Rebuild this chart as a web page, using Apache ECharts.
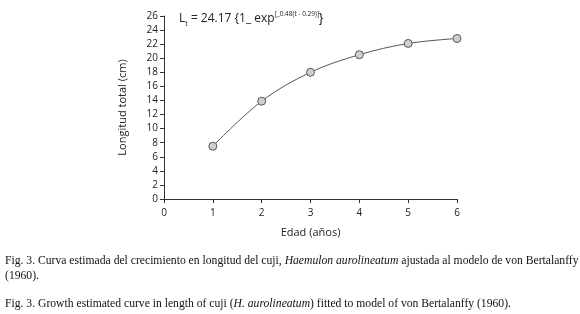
<!DOCTYPE html>
<html>
<head>
<meta charset="utf-8">
<script src="https://cdn.jsdelivr.net/npm/echarts@6/dist/echarts.min.js"></script>
<style>
  html, body { margin: 0; padding: 0; background: #fff; }
  #chart { width: 580px; height: 314px; }
</style>
</head>
<body>
<div id="chart"></div>
<script>
// edades (años) y longitud total (cm)
var ages = [1, 2, 3, 4, 5, 6];
var lengths = [7.5, 13.9, 18.0, 20.5, 22.1, 22.8];
var xTicks = [0, 1, 2, 3, 4, 5, 6];
var yTicks = [0, 2, 4, 6, 8, 10, 12, 14, 16, 18, 20, 22, 24, 26];

var sans = '"Open Sans", "DejaVu Sans", sans-serif';
var serif = '"Liberation Serif", "DejaVu Serif", serif';

var chart = echarts.init(document.getElementById('chart'));

var points = ages.map(function (a, i) { return [a, lengths[i]]; });

var axisCommon = {
  axisLine: { show: true, lineStyle: { color: '#333', width: 1 } },
  axisTick: { show: true, length: 4, lineStyle: { color: '#333' } },
  splitLine: { show: false }
};

// estilos del pie de figura
var captionRich = {
  n: { fontFamily: serif, fontSize: 11.65, lineHeight: 15, fill: '#111' },
  i: { fontFamily: serif, fontSize: 11.65, lineHeight: 15, fontStyle: 'italic', fill: '#111' }
};

chart.setOption({
  animation: false,
  grid: { left: 164, right: 123, top: 16, bottom: 115 },
  xAxis: Object.assign({}, axisCommon, {
    type: 'value',
    min: xTicks[0],
    max: xTicks[xTicks.length - 1],
    interval: 1,
    name: 'Edad (años)',
    nameLocation: 'middle',
    nameGap: 28,
    nameTextStyle: { color: '#222', fontFamily: sans, fontSize: 11 },
    axisLabel: { color: '#222', fontFamily: sans, fontSize: 10, margin: 9 }
  }),
  yAxis: Object.assign({}, axisCommon, {
    type: 'value',
    min: yTicks[0],
    max: yTicks[yTicks.length - 1],
    interval: 2,
    name: 'Longitud total (cm)',
    nameLocation: 'middle',
    nameGap: 36,
    nameTextStyle: { color: '#222', fontFamily: sans, fontSize: 11 },
    axisLabel: { color: '#222', fontFamily: sans, fontSize: 10, margin: 6 }
  }),
  series: [{
    type: 'line',
    data: points,
    smooth: 0.35,
    symbol: 'circle',
    symbolSize: 8,
    lineStyle: { color: '#555', width: 1 },
    itemStyle: { color: '#cfcfcf', borderColor: '#555', borderWidth: 1 }
  }],
  graphic: [
    {
      type: 'text',
      left: 179,
      top: 11,
      style: {
        text: '{m|L}{s|t}{m| = 24.17 \u007B1_ exp}{p|[_0.48(t - 0.29)]}{m|\u007D}',
        rich: {
          m: { fontFamily: sans, fontSize: 12, lineHeight: 16, fill: '#222' },
          s: { fontFamily: sans, fontSize: 7, lineHeight: 7, verticalAlign: 'bottom', fill: '#222' },
          p: { fontFamily: sans, fontSize: 6.5, lineHeight: 6, verticalAlign: 'top', fill: '#222' }
        }
      }
    },
    {
      type: 'text',
      left: 5,
      top: 255,
      style: {
        text: '{n|Fig. 3. Curva estimada del crecimiento en longitud del cuji, }{i|Haemulon aurolineatum}{n| ajustada al modelo de von Bertalanffy}\n{n|(1960).}',
        rich: captionRich
      }
    },
    {
      type: 'text',
      left: 5,
      top: 298,
      style: {
        text: '{n|Fig. 3. Growth estimated curve in length of cuji (}{i|H. aurolineatum}{n|) fitted to model of von Bertalanffy (1960).}',
        rich: captionRich
      }
    }
  ]
});
</script>
</body>
</html>
